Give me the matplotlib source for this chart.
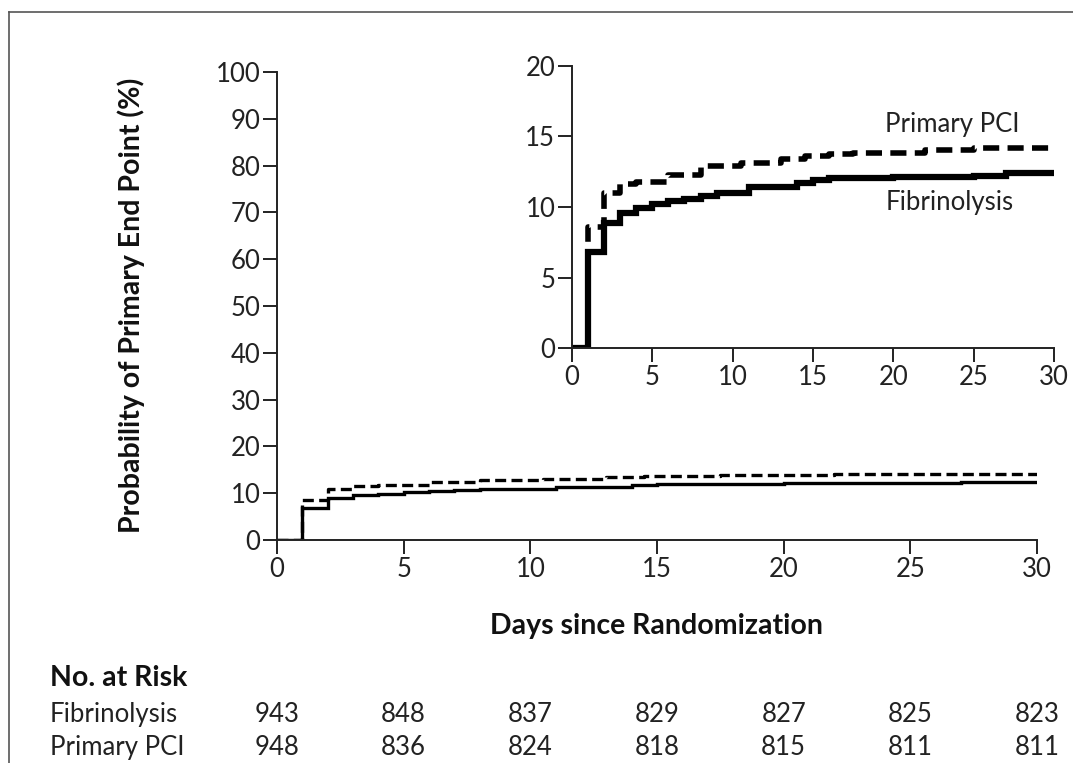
import matplotlib
matplotlib.use("Agg")
import matplotlib.pyplot as plt
from matplotlib import transforms
from matplotlib.lines import Line2D

plt.rcParams['font.family'] = ['Lato', 'DejaVu Sans']

# Data
fib_days = [0, 1, 2, 3, 4, 5, 6, 7, 8, 9, 11, 14, 15, 16, 20, 25, 27, 30]
fib_vals = [0, 6.8, 8.9, 9.6, 9.9, 10.2, 10.4, 10.6, 10.8, 11.0, 11.4, 11.7, 11.9, 12.05, 12.1, 12.2, 12.4, 12.4]
pci_days = [0, 1, 2, 3, 4, 6, 8, 10.5, 13, 14.5, 16, 17.5, 22, 25, 30]
pci_vals = [0, 8.6, 11.0, 11.6, 11.8, 12.3, 12.9, 13.1, 13.4, 13.6, 13.75, 13.85, 14.05, 14.2, 14.2]

risk_days = [0, 5, 10, 15, 20, 25, 30]
risk_fib = [943, 848, 837, 829, 827, 825, 823]
risk_pci = [948, 836, 824, 818, 815, 811, 811]

main_yticks = list(range(0, 101, 10))
main_xticks = [0, 5, 10, 15, 20, 25, 30]
inset_yticks = [0, 5, 10, 15, 20]

W, H = 1073, 763
fig = plt.figure(figsize=(W / 100, H / 100), dpi=100)

FS = 18.5
FSB = 20.5
TXT = '#222222'

def fx(px):
    return px / W

def fy(py):
    return 1 - py / H

def style_axes(ax):
    for s in ['top', 'right']:
        ax.spines[s].set_visible(False)
    for s in ['left', 'bottom']:
        ax.spines[s].set_linewidth(1.4)
        ax.spines[s].set_color('#222222')
    ax.tick_params(direction='out', length=10, width=1.4, color='#222222',
                   labelsize=FS, labelcolor=TXT, pad=2)

# Main axes
ax = fig.add_axes([fx(277), fy(540), fx(1037) - fx(277), fy(72) - fy(540)])
ax.step(fib_days, fib_vals, where='post', color='black', lw=2.4, solid_joinstyle='miter')
ax.step(pci_days, pci_vals, where='post', color='black', lw=2.4, linestyle=(0, (3.3, 1.6)))
ax.set_xlim(0, 30)
ax.set_ylim(0, 100)
ax.set_xticks(main_xticks)
ax.set_yticks(main_yticks)
style_axes(ax)

# Inset axes
ax2 = fig.add_axes([fx(572), fy(348), fx(1054) - fx(572), fy(66) - fy(348)])
ax2.step(fib_days, fib_vals, where='post', color='black', lw=4.5, solid_joinstyle='miter')
ax2.step(pci_days, pci_vals, where='post', color='black', lw=4.0, linestyle=(0, (2.9, 1.5)))
ax2.set_xlim(0, 30)
ax2.set_ylim(0, 20)
ax2.set_xticks(main_xticks)
ax2.set_yticks(inset_yticks)
style_axes(ax2)
ax2.text(19.5, 15.3, 'Primary PCI', fontsize=FS, color=TXT, ha='left', va='baseline')
ax2.text(19.5, 9.8, 'Fibrinolysis', fontsize=FS, color=TXT, ha='left', va='baseline')

# Labels
fig.text(fx(131), fy(305), 'Probability of Primary End Point (%)', rotation=90,
         ha='center', va='center', fontsize=FSB, fontweight='bold', color='#111111')
fig.text(fx(657), fy(634), 'Days since Randomization', ha='center', va='baseline',
         fontsize=FSB, fontweight='bold', color='#111111')
fig.text(fx(50), fy(686), 'No. at Risk', ha='left', va='baseline',
         fontsize=FSB, fontweight='bold', color='#111111')
fig.text(fx(50), fy(722), 'Fibrinolysis', ha='left', va='baseline', fontsize=FS, color=TXT)
fig.text(fx(50), fy(755), 'Primary PCI', ha='left', va='baseline', fontsize=FS, color=TXT)

trans = transforms.blended_transform_factory(ax.transData, fig.transFigure)
for d, a, b in zip(risk_days, risk_fib, risk_pci):
    ax.text(d, fy(722), str(a), transform=trans, ha='center', va='baseline',
            fontsize=FS, color=TXT, clip_on=False)
    ax.text(d, fy(755), str(b), transform=trans, ha='center', va='baseline',
            fontsize=FS, color=TXT, clip_on=False)

# Frame lines (left and top)
fig.add_artist(Line2D([fx(9), fx(9)], [fy(12), 0], color='#555555', lw=1.2))
fig.add_artist(Line2D([fx(9), 1], [fy(12), fy(12)], color='#555555', lw=1.2))

fig.savefig('out.png', dpi=100)
